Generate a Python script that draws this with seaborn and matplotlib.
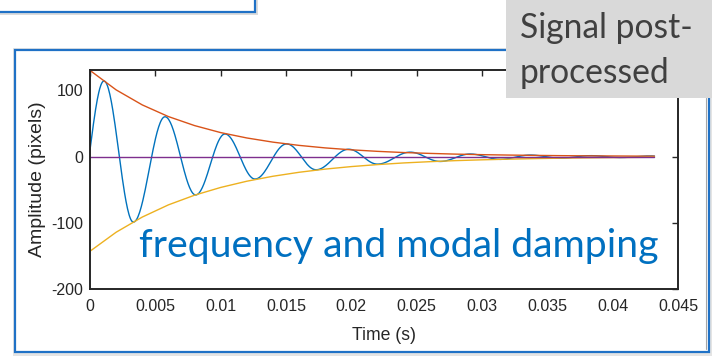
import numpy as np
import pandas as pd
import matplotlib
matplotlib.use("Agg")
import matplotlib.pyplot as plt
import seaborn as sns
from matplotlib.patches import Rectangle
from matplotlib.lines import Line2D

# ---- data -------------------------------------------------------------
# Successive extrema of the measured displacement (time s, amplitude px)
extrema_t = [0.0, 0.00107, 0.00332, 0.00574, 0.00809, 0.01033, 0.01263,
             0.01505, 0.0173, 0.0198, 0.0220, 0.0245, 0.0268, 0.0291,
             0.0314, 0.0337, 0.0360, 0.0383, 0.0406, 0.0429, 0.0432]
extrema_v = [10, 114, -99, 60, -58, 34, -34, 19, -20, 11, -11.5, 6.6,
             -7.5, 3.8, -4.3, 2.2, -2.5, 1.3, -1.5, 0.8, 0.6]

# Fitted decay envelopes sampled along the record
env_t = [0.0, 0.002, 0.004, 0.006, 0.008, 0.010, 0.012, 0.014, 0.016,
         0.018, 0.020, 0.022, 0.024, 0.026, 0.028, 0.030, 0.032, 0.034,
         0.036, 0.038, 0.040, 0.042, 0.0432]
upper_v = [130.0, 100.6, 77.9, 60.3, 46.7, 36.1, 28.0, 21.7, 16.8, 13.0,
           10.1, 7.8, 6.0, 4.7, 3.6, 2.8, 2.2, 1.7, 1.3, 1.0, 0.8, 0.6, 0.5]
lower_v = [-143.0, -114.3, -91.4, -73.0, -58.4, -46.7, -37.3, -29.8, -23.8,
           -19.0, -15.2, -12.2, -9.7, -7.8, -6.2, -5.0, -4.0, -3.2, -2.5,
           -2.0, -1.6, -1.3, -1.1]

zero_t = [0.0, 0.0432]
zero_v = [0.0, 0.0]

x_ticks = [0, 0.005, 0.01, 0.015, 0.02, 0.025, 0.03, 0.035, 0.04, 0.045]
x_tick_labels = ["0", "0.005", "0.01", "0.015", "0.02", "0.025", "0.03",
                 "0.035", "0.04", "0.045"]
y_ticks = [-200, -100, 0, 100]
y_tick_labels = ["-200", "-100", "0", "100"]

colors = {"signal": "#0072BD", "upper": "#D95319",
          "lower": "#EDB120", "zero": "#7E2F8E"}


def smooth_through_extrema(t_pts, v_pts, n=40):
    """Trace the oscillation between consecutive extrema."""
    ts, vs = [], []
    for i in range(len(t_pts) - 1):
        s = np.linspace(0.0, 1.0, n, endpoint=False)
        t0, t1 = t_pts[i], t_pts[i + 1]
        v0, v1 = v_pts[i], v_pts[i + 1]
        if i == 0:
            shape = np.sin(np.pi / 2 * s)      # rising from the start
        else:
            shape = (1 - np.cos(np.pi * s)) / 2
        ts.append(t0 + (t1 - t0) * s)
        vs.append(v0 + (v1 - v0) * shape)
    ts.append([t_pts[-1]])
    vs.append([v_pts[-1]])
    return np.concatenate(ts), np.concatenate(vs)


sig_t, sig_v = smooth_through_extrema(extrema_t, extrema_v)

df = pd.concat([
    pd.DataFrame({"t": sig_t, "v": sig_v, "series": "signal"}),
    pd.DataFrame({"t": env_t, "v": upper_v, "series": "upper"}),
    pd.DataFrame({"t": env_t, "v": lower_v, "series": "lower"}),
    pd.DataFrame({"t": zero_t, "v": zero_v, "series": "zero"}),
], ignore_index=True)

# ---- figure -----------------------------------------------------------
sns.set_theme(style="white")
plt.rcParams["font.family"] = ["Liberation Sans", "DejaVu Sans"]

W, H = 712, 361
fig = plt.figure(figsize=(W / 100, H / 100), dpi=100)
fig.patch.set_facecolor("white")


def px_rect(x0, y0, x1, y1, **kw):
    r = Rectangle((x0 / W, 1 - y1 / H), (x1 - x0) / W, (y1 - y0) / H,
                  transform=fig.transFigure, **kw)
    fig.add_artist(r)
    return r


frame_blue = "#1F71C6"

# upper slide box (partly off the top)
px_rect(-8, -8, 258, 15, facecolor="#dcdcdc", edgecolor="none", zorder=-3)
px_rect(-8, -8, 255, 12, facecolor="white", edgecolor=frame_blue,
        linewidth=1.6, zorder=-2)

# frame around the plot
px_rect(13, 48, 712, 356, facecolor="#e4e4e4", edgecolor="none", zorder=-3)
px_rect(15, 50, 709, 352, facecolor="white", edgecolor=frame_blue,
        linewidth=1.6, zorder=-2)
fig.add_artist(Line2D([705.5 / W, 705.5 / W], [1 - 98 / H, 1 - 349 / H],
                      transform=fig.transFigure, color="#a6a6a6",
                      linewidth=0.8, zorder=-1))

# axes
ax = fig.add_axes([90 / W, 1 - 289 / H, 588 / W, 219 / H])
ax.set_facecolor("white")

sns.lineplot(data=df, x="t", y="v", hue="series",
             hue_order=["signal", "upper", "lower", "zero"],
             palette=colors, estimator=None, sort=False, legend=False,
             linewidth=1.0, ax=ax)

ax.set_xlim(0, 0.045)
ax.set_ylim(-200, 130.6)
ax.set_xticks(x_ticks)
ax.set_xticklabels(x_tick_labels)
ax.set_yticks(y_ticks)
ax.set_yticklabels(y_tick_labels)
ax.tick_params(direction="in", length=4.5, width=1.0, top=True, right=True,
               labelsize=11.5, colors="#262626", labelcolor="#262626")
ax.tick_params(axis="x", pad=7)
ax.tick_params(axis="y", pad=5)
for sp in ax.spines.values():
    sp.set_color("#262626")
    sp.set_linewidth(1.4)
    sp.set_visible(True)

ax.set_xlabel("Time (s)", fontsize=12.7, color="#262626", va="center")
ax.xaxis.set_label_coords(0.5, -(335 - 289) / 219)
ax.set_ylabel("Amplitude (pixels)", fontsize=14.0, color="#262626",
              va="center")
ax.yaxis.set_label_coords((38 - 90) / 588, 0.5)

# slide annotations
slide_font = ["Lato", "DejaVu Sans"]
caption = fig.text(139 / W, 1 - 257 / H, "frequency and modal damping",
                   color="#0070C0", fontsize=27, family=slide_font,
                   ha="left", va="baseline", zorder=6)

px_rect(506, -5, 716, 98, facecolor="#D9D9D9", edgecolor="none", zorder=5)
line1 = fig.text(520 / W, 1 - 37.7 / H, "Signal post-", color="#404040",
                 fontsize=24, family=slide_font, ha="left", va="baseline",
                 zorder=6)
line2 = fig.text(520 / W, 1 - 83.3 / H, "processed", color="#404040",
                 fontsize=24, family=slide_font, ha="left", va="baseline",
                 zorder=6)


def fit_width(txt, target_px):
    renderer = fig.canvas.get_renderer()
    w = txt.get_window_extent(renderer).width
    txt.set_fontsize(txt.get_fontsize() * target_px / w)


fit_width(caption, 521)
fit_width(line1, 173)
line2.set_fontsize(line1.get_fontsize())

fig.savefig("out.png", dpi=100, facecolor="white")
